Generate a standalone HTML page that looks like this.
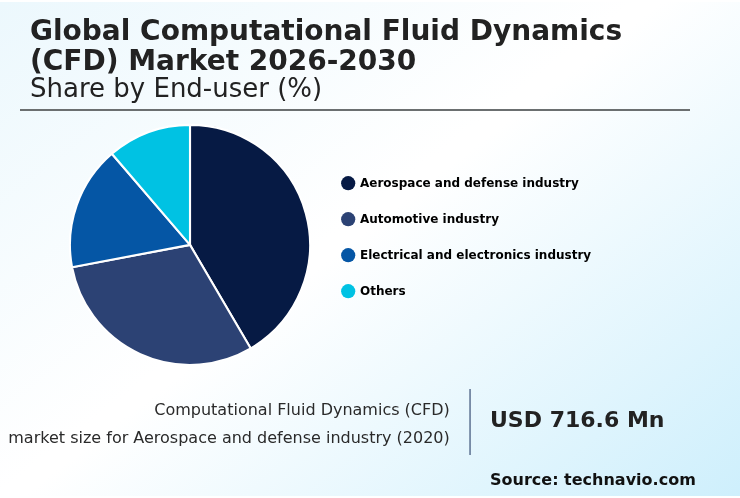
<!DOCTYPE html>
<html><head><meta charset="utf-8"><title>Global Computational Fluid Dynamics (CFD) Market 2026-2030</title>
<style>
html,body{margin:0;padding:0;background:#fff;}
body{width:740px;height:498px;overflow:hidden;}
svg{display:block;}
text{font-family:"DejaVu Sans","Liberation Sans",sans-serif;fill:#222;}
.t{font-weight:bold;font-size:28px;}
.s{font-size:26px;}
.lg{font-weight:bold;font-size:12px;fill:#000;}
.d{font-size:16px;fill:#2a2a2a;}
.v{font-weight:bold;font-size:22px;}
.src{font-weight:bold;font-size:16px;fill:#111;}
</style></head><body>
<svg width="740" height="498" viewBox="0 0 740 498">
<defs>
<linearGradient id="bg" gradientUnits="userSpaceOnUse" x1="112.1" y1="-84.6" x2="627.9" y2="582.6">
<stop offset="0" stop-color="#ecf8fd"/>
<stop offset="0.46" stop-color="#ffffff"/>
<stop offset="0.48" stop-color="#ffffff"/>
<stop offset="1" stop-color="#ceeffc"/>
</linearGradient>
</defs>
<rect x="0" y="2" width="740" height="494" fill="url(#bg)"/>
<text x="30" y="40" class="t">Global Computational Fluid Dynamics</text>
<text x="30" y="70" class="t">(CFD) Market 2026-2030</text>
<text x="30" y="97" class="s">Share by End-user (%)</text>
<rect x="20" y="109" width="670" height="2" fill="#6b6f70"/>
<path d="M190.0 244.9L190.00 124.85A120.05 120.05 0 0 1 250.75 348.44Z" fill="#061a44" stroke="#fff" stroke-width="2.1" stroke-linejoin="round"/>
<path d="M190.0 244.9L250.75 348.44A120.05 120.05 0 0 1 72.04 267.19Z" fill="#2c4274" stroke="#fff" stroke-width="2.1" stroke-linejoin="round"/>
<path d="M190.0 244.9L72.04 267.19A120.05 120.05 0 0 1 111.87 153.75Z" fill="#0556a5" stroke="#fff" stroke-width="2.1" stroke-linejoin="round"/>
<path d="M190.0 244.9L111.87 153.75A120.05 120.05 0 0 1 190.00 124.85Z" fill="#00c2e3" stroke="#fff" stroke-width="2.1" stroke-linejoin="round"/>
<circle cx="348.2" cy="183.2" r="7.1" fill="#061a44"/>
<text x="360" y="187" class="lg">Aerospace and defense industry</text>
<circle cx="348.2" cy="219.2" r="7.1" fill="#2c4274"/>
<text x="360" y="223" class="lg">Automotive industry</text>
<circle cx="348.2" cy="255.2" r="7.1" fill="#0556a5"/>
<text x="360" y="259" class="lg">Electrical and electronics industry</text>
<circle cx="348.2" cy="291.2" r="7.1" fill="#00c2e3"/>
<text x="360" y="295" class="lg">Others</text>

<text x="449.8" y="415" class="d" text-anchor="end">Computational Fluid Dynamics (CFD)</text>
<text x="449.8" y="443" class="d" text-anchor="end">market size for Aerospace and defense industry (2020)</text>
<rect x="469.3" y="389" width="1.5" height="66" fill="#5c7191"/>
<text x="490" y="427" class="v">USD 716.6 Mn</text>
<text x="490" y="485" class="src">Source: technavio.com</text>
</svg>
</body></html>
